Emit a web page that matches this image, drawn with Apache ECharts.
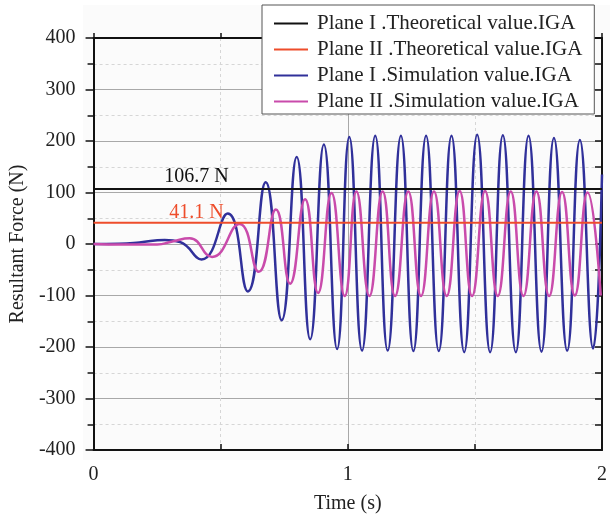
<!DOCTYPE html>
<html>
<head>
<meta charset="utf-8">
<script src="https://cdn.jsdelivr.net/npm/echarts@6/dist/echarts.min.js"></script>
<style>
    html, body { margin: 0; padding: 0; background: #fff; }
    #chart { width: 610px; height: 519px; }
</style>
</head>
<body>
<div id="chart"></div>
<script>
// 理论值 (N)
var theoPlaneI = 106.7;
var theoPlaneII = 41.1;
var theoTime = [0, 2];
var labelTime = 0.405;

// Plane I 仿真值: 峰/谷点 (时间 s, 力 N)
var simTimeI = [0, 0.1, 0.18, 0.28, 0.34, 0.425, 0.528, 0.607, 0.677, 0.74, 0.799, 0.852,
    0.906, 0.958, 1.006, 1.056, 1.108, 1.157, 1.209, 1.258, 1.308, 1.358, 1.408, 1.458,
    1.509, 1.56, 1.61, 1.661, 1.711, 1.762, 1.811, 1.863, 1.913, 1.965, 2.0];
var simForceI = [0, 0.5, 3, 8, 4, -30, 59, -92, 120, -148, 169, -185,
    193, -204, 208, -207, 210, -207, 210, -208, 210, -208, 210, -210,
    212, -210, 211, -210, 210, -209, 206, -207, 202, -203, 135];

// Plane II 仿真值
var simTimeII = [0, 0.12, 0.25, 0.31, 0.378, 0.466, 0.574, 0.65, 0.717, 0.773, 0.832, 0.883,
    0.936, 0.988, 1.034, 1.085, 1.137, 1.186, 1.238, 1.288, 1.339, 1.389, 1.44, 1.489,
    1.54, 1.59, 1.641, 1.691, 1.742, 1.792, 1.843, 1.893, 1.943, 1.995];
var simForceII = [0, -1, -1, 5, 11, -25, 39, -54, 67, -77, 87, -95,
    99, -101, 102, -101, 102, -101, 102, -101, 102, -101, 103, -101,
    103, -101, 102, -101, 102, -101, 101, -100, 100, -100];

var names = [
    "Plane I .Theoretical value.IGA",
    "Plane II .Theoretical value.IGA",
    "Plane I .Simulation value.IGA",
    "Plane II .Simulation value.IGA",
];

function zip(xs, ys) {
    return xs.map(function (x, i) { return [x, ys[i]]; });
}

var font = "Liberation Serif";

var myChart = echarts.init(document.getElementById("chart"));
var option = {
    animation: false,
    textStyle: { fontFamily: font },
    graphic: [
        {
            type: "rect",
            z: -10,
            shape: { x: 83, y: 5, width: 527, height: 455 },
            style: { fill: "#fbfbfb" },
        },
    ],
    grid: { left: 93, right: 5, top: 38, bottom: 68, containLabel: false },
    legend: {
        orient: "vertical",
        left: 262,
        top: 5,
        padding: [8, 12, 2, 12],
        itemGap: 5,
        itemWidth: 34,
        itemHeight: 2,
        icon: "rect",
        backgroundColor: "#fff",
        borderColor: "#555",
        borderWidth: 1,
        textStyle: { fontFamily: font, fontSize: 21, color: "#222", padding: [0, 0, 0, 4] },
        data: names,
    },
    xAxis: [
        {
            type: "value",
            min: 0,
            max: 2,
            interval: 1,
            name: "Time (s)",
            nameLocation: "middle",
            nameGap: 44,
            nameTextStyle: { fontFamily: font, fontSize: 20, color: "#222" },
            axisLine: { onZero: false, lineStyle: { color: "#111", width: 2 } },
            axisTick: { inside: true, length: 6, lineStyle: { color: "#111", width: 1.5 } },
            minorTick: { show: true, splitNumber: 2, length: 6, lineStyle: { color: "#111", width: 1.5 } },
            axisLabel: { fontFamily: font, fontSize: 20, color: "#222", margin: 15 },
            splitLine: { lineStyle: { color: "#a8a8a8", width: 1 } },
            minorSplitLine: { show: true, lineStyle: { color: "#d6d6d6", type: [3, 3], width: 1 } },
        },
        {
            type: "value",
            position: "top",
            min: 0,
            max: 2,
            interval: 1,
            axisLine: { onZero: false, lineStyle: { color: "#111", width: 2 } },
            axisTick: { length: 5, lineStyle: { color: "#111", width: 1.5 } },
            minorTick: { show: true, splitNumber: 2, length: 5, lineStyle: { color: "#111", width: 1.5 } },
            axisLabel: { show: false },
            splitLine: { show: false },
        },
    ],
    yAxis: [
        {
            type: "value",
            min: -400,
            max: 400,
            interval: 100,
            name: "Resultant Force (N)",
            nameLocation: "middle",
            nameGap: 62,
            nameTextStyle: { fontFamily: font, fontSize: 20, color: "#222" },
            axisLine: { show: true, onZero: false, lineStyle: { color: "#111", width: 2 } },
            axisTick: { show: true, length: 8, lineStyle: { color: "#111", width: 1.5 } },
            minorTick: { show: true, splitNumber: 2, length: 6, lineStyle: { color: "#111", width: 1.5 } },
            axisLabel: { fontFamily: font, fontSize: 20, color: "#222", margin: 18 },
            splitLine: { lineStyle: { color: "#a8a8a8", width: 1 } },
            minorSplitLine: { show: true, lineStyle: { color: "#d6d6d6", type: [3, 3], width: 1 } },
        },
        {
            type: "value",
            position: "right",
            min: -400,
            max: 400,
            interval: 100,
            axisLine: { show: true, onZero: false, lineStyle: { color: "#111", width: 2 } },
            axisTick: { show: true, inside: true, length: 7, lineStyle: { color: "#111", width: 1.5 } },
            minorTick: { show: true, splitNumber: 2, length: 7, lineStyle: { color: "#111", width: 1.5 } },
            axisLabel: { show: false },
            splitLine: { show: false },
        },
    ],
    series: [
        {
            name: names[0],
            type: "line",
            z: 5,
            symbol: "none",
            color: "#111111",
            lineStyle: { width: 2 },
            data: theoTime.map(function (t) { return [t, theoPlaneI]; }),
            markPoint: {
                symbol: "circle",
                symbolSize: 0,
                silent: true,
                label: {
                    show: true,
                    position: "top",
                    distance: 2,
                    formatter: "{c} N",
                    fontFamily: font,
                    fontSize: 20,
                    color: "#111",
                },
                data: [{ coord: [labelTime, theoPlaneI], value: theoPlaneI }],
            },
        },
        {
            name: names[1],
            type: "line",
            z: 5,
            symbol: "none",
            color: "#ee4d2b",
            lineStyle: { width: 2 },
            data: theoTime.map(function (t) { return [t, theoPlaneII]; }),
            markPoint: {
                symbol: "circle",
                symbolSize: 0,
                silent: true,
                label: {
                    show: true,
                    position: "top",
                    distance: 0,
                    formatter: "{c} N",
                    fontFamily: font,
                    fontSize: 20,
                    color: "#ee4d2b",
                },
                data: [{ coord: [labelTime, theoPlaneII], value: theoPlaneII }],
            },
        },
        {
            name: names[2],
            type: "line",
            z: 3,
            symbol: "none",
            smooth: 0.5,
            color: "#30309a",
            lineStyle: { width: 2.5 },
            data: zip(simTimeI, simForceI),
        },
        {
            name: names[3],
            type: "line",
            z: 4,
            symbol: "none",
            smooth: 0.5,
            color: "#c94bab",
            lineStyle: { width: 2.5 },
            data: zip(simTimeII, simForceII),
        },
    ],
};
myChart.setOption(option);
window.addEventListener("resize", function () {
    myChart.resize();
});
</script>
</body>
</html>
